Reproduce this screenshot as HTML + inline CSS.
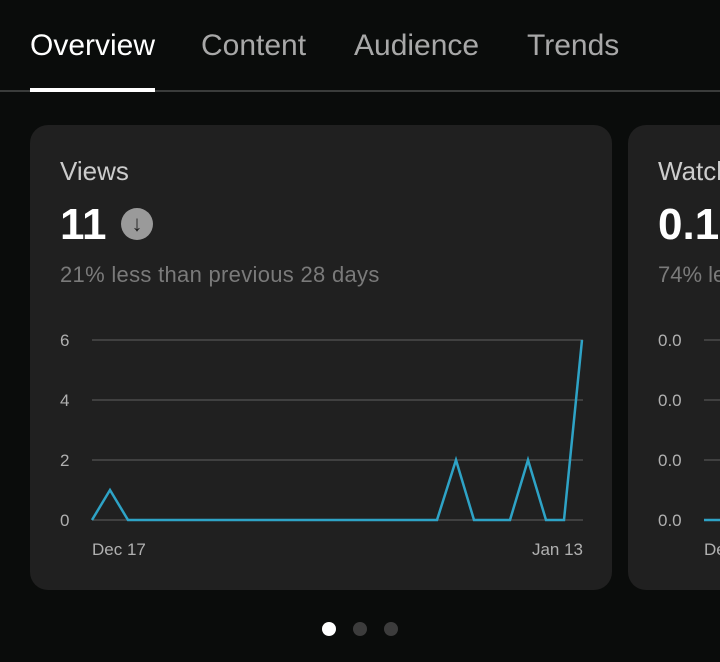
<!DOCTYPE html><html><head><style>
body{margin:0;width:720px;height:662px;background:#0a0c0b;font-family:"Liberation Sans",sans-serif;overflow:hidden;position:relative}
div{white-space:nowrap}
.t{position:absolute;top:29px;font-size:30px;color:#a8a8a8}
.card{position:absolute;top:125px;height:465px;background:#202020;border-radius:18px}
</style></head><body>
<div class="t" style="left:30px;color:#fff">Overview</div>
<div class="t" style="left:201px">Content</div>
<div class="t" style="left:354px">Audience</div>
<div class="t" style="left:527px">Trends</div>
<div style="position:absolute;top:90px;left:0;width:720px;height:2px;background:#3a3c3b"></div>
<div style="position:absolute;top:88px;left:30px;width:125px;height:4px;background:#fff"></div>
<div class="card" style="left:30px;width:582px"></div>
<div class="card" style="left:628px;width:120px"></div>
<div style="position:absolute;left:60px;top:156px;font-size:26px;color:#ccc">Views</div>
<div style="position:absolute;left:60px;top:200px;font-size:44px;font-weight:bold;color:#fff">11</div>
<div style="position:absolute;left:121px;top:208px;width:32px;height:32px;border-radius:50%;background:#9a9a9a;color:#202020;font-size:22px;font-weight:bold;text-align:center;line-height:32px">↓</div>
<div style="position:absolute;left:60px;top:262px;font-size:22px;letter-spacing:0.3px;color:#7a7a7a">21% less than previous 28 days</div>
<div style="position:absolute;left:658px;top:156px;font-size:26px;color:#ccc">Watch</div>
<div style="position:absolute;left:658px;top:200px;font-size:44px;font-weight:bold;color:#fff">0.1</div>
<div style="position:absolute;left:658px;top:262px;font-size:22px;color:#7a7a7a">74% le</div>
<svg width="720" height="662" style="position:absolute;left:0;top:0" font-family="Liberation Sans" font-size="17" fill="#b0b0b0">
<g stroke="#4a4a4a" stroke-width="1.5"><line x1="92" x2="583" y1="340" y2="340"/><line x1="92" x2="583" y1="400" y2="400"/><line x1="92" x2="583" y1="460" y2="460"/><line x1="92" x2="583" y1="520" y2="520"/>
<line x1="704" x2="720" y1="340" y2="340"/><line x1="704" x2="720" y1="400" y2="400"/><line x1="704" x2="720" y1="460" y2="460"/></g>
<text x="60" y="346">6</text><text x="60" y="406">4</text><text x="60" y="466">2</text><text x="60" y="526">0</text>
<text x="658" y="346">0.0</text><text x="658" y="406">0.0</text><text x="658" y="466">0.0</text><text x="658" y="526">0.0</text>
<text x="92" y="555">Dec 17</text><text x="583" y="555" text-anchor="end">Jan 13</text><text x="704" y="555">De</text>
<line x1="704" x2="720" y1="520" y2="520" stroke="#2ea3c6" stroke-width="2.5"/>
<polyline fill="none" stroke="#2ea3c6" stroke-width="2.5" stroke-linejoin="miter" points="92,520 110,490 128,520 437,520 456,460 474,520 510,520 528,460 546,520 564,520 582,340"/>
</svg>
<div style="position:absolute;left:322px;top:622px;width:14px;height:14px;border-radius:50%;background:#fff"></div>
<div style="position:absolute;left:353px;top:622px;width:14px;height:14px;border-radius:50%;background:#3c3c3c"></div>
<div style="position:absolute;left:384px;top:622px;width:14px;height:14px;border-radius:50%;background:#3c3c3c"></div>
</body></html>
